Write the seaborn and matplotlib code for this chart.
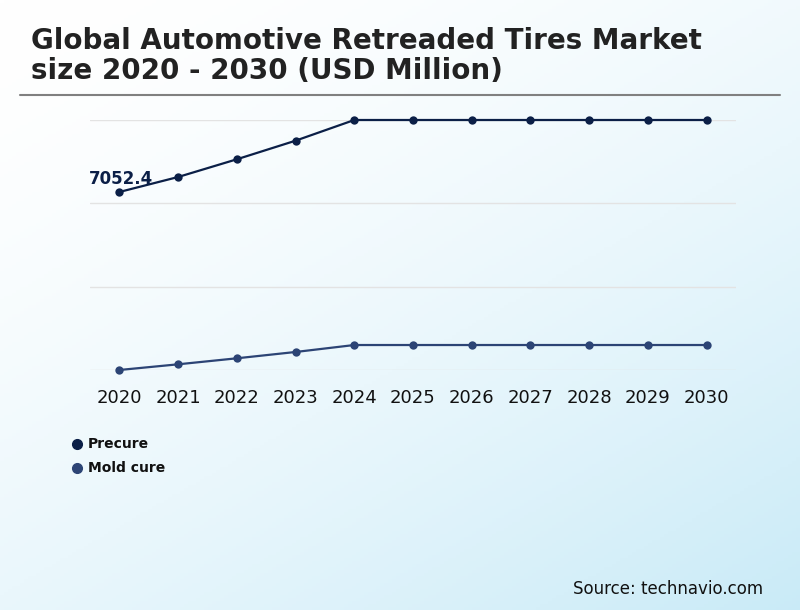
import numpy as np
import pandas as pd
import matplotlib.pyplot as plt
import seaborn as sns
from matplotlib.lines import Line2D

years = list(range(2020, 2031))
precure = [7052.4, 7461, 7944, 8451, 9015, 9015, 9015, 9015, 9015, 9015, 9015]
mold_cure = [2200, 2355, 2519, 2691, 2881, 2881, 2881, 2881, 2881, 2881, 2881]
series_names = ['Precure', 'Mold cure']
series_colors = ['#0b1f47', '#2c4475']

df = pd.DataFrame({'year': years * 2,
                   'value': precure + mold_cure,
                   'segment': ['Precure'] * len(years) + ['Mold cure'] * len(years)})

sns.set_style('white')
plt.rcParams['font.family'] = ['DejaVu Sans']

fig = plt.figure(figsize=(8, 6.1), dpi=100)

# background gradient white -> light blue
bg = fig.add_axes([0, 0, 1, 1], zorder=-10)
gx, gy = np.meshgrid(np.linspace(0, 1, 200), np.linspace(0, 1, 200))
t = np.clip((gx * 0.6 + gy * 0.8) / 1.4, 0, 1) ** 1.6
c0 = np.array([1.0, 1.0, 1.0])
c1 = np.array([0.79, 0.92, 0.97])
img = c0[None, None, :] * (1 - t[..., None]) + c1[None, None, :] * t[..., None]
bg.imshow(img, aspect='auto', extent=[0, 1, 0, 1], origin='upper')
bg.axis('off')

W, H = 800, 610
ax = fig.add_axes([90 / W, 1 - 370 / H, (736 - 90) / W, (370 - 120) / H])
ax.patch.set_alpha(0)

sns.lineplot(data=df, x='year', y='value', hue='segment', hue_order=series_names,
             palette=series_colors, marker='o', markersize=6, markeredgewidth=0,
             linewidth=1.6, legend=False, ax=ax, clip_on=False)

lo, hi = min(mold_cure), max(precure)
ax.set_ylim(lo, hi)
ax.set_xlim(2019.5, 2030.5)
ax.set_yticks(np.linspace(lo, hi, 4))
ax.set_yticklabels([])
ax.set_xticks(years)
ax.tick_params(axis='x', labelsize=13, pad=14, length=0, colors='#111111')
ax.tick_params(axis='y', length=0)
ax.grid(axis='y', color='#e3e3e3', linewidth=1)
for s in ax.spines.values():
    s.set_visible(False)
ax.set_xlabel('')
ax.set_ylabel('')

ax.annotate(f'{precure[0]}', xy=(years[0], precure[0]), xytext=(-22, 6),
            textcoords='offset points', fontsize=12, fontweight='bold',
            color=series_colors[0])

fig.text(31 / W, 1 - 27 / H, 'Global Automotive Retreaded Tires Market\nsize 2020 - 2030 (USD Million)',
         fontsize=20, fontweight='bold', color='#222222', va='top', linespacing=1.1)
fig.add_artist(Line2D([20 / W, 780 / W], [1 - 95 / H, 1 - 95 / H], color='#808080', linewidth=1.5))

for i, (name, col) in enumerate(zip(series_names, series_colors)):
    yy = 1 - (444 + 24 * i) / H
    fig.add_artist(Line2D([77 / W], [yy], marker='o', color=col, markersize=7, linestyle=''))
    fig.text(88 / W, yy, name, fontsize=10, fontweight='bold', color='#111111', va='center')

fig.text(763 / W, 1 - 589 / H, 'Source: technavio.com', fontsize=12, color='#111111',
         ha='right', va='center')

fig.savefig('out.png', dpi=100)
